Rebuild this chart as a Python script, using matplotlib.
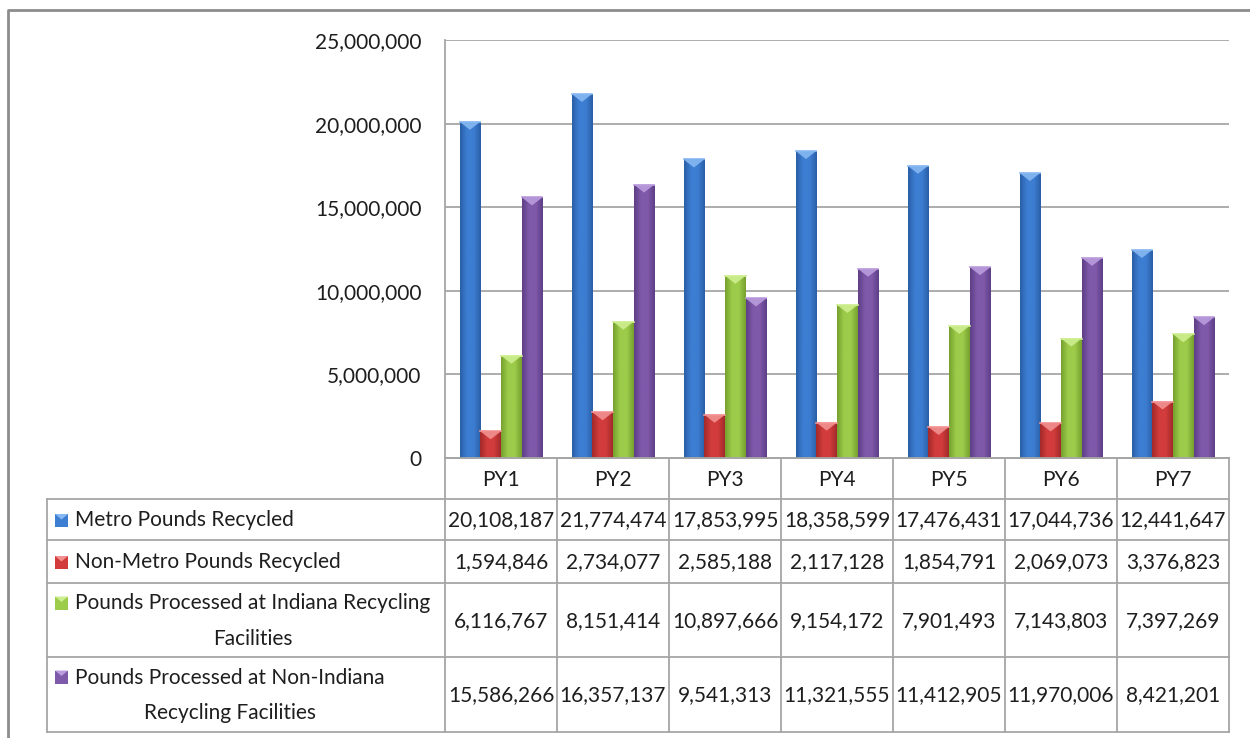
import numpy as np
import matplotlib
matplotlib.use("Agg")
import matplotlib.pyplot as plt
from matplotlib.patches import Polygon, Rectangle
from matplotlib.colors import LinearSegmentedColormap

categories = ["PY1", "PY2", "PY3", "PY4", "PY5", "PY6", "PY7"]
series_names = [
    "Metro Pounds Recycled",
    "Non-Metro Pounds Recycled",
    "Pounds Processed at Indiana Recycling\nFacilities",
    "Pounds Processed at Non-Indiana\nRecycling Facilities",
]
metro = [20108187, 21774474, 17853995, 18358599, 17476431, 17044736, 12441647]
non_metro = [1594846, 2734077, 2585188, 2117128, 1854791, 2069073, 3376823]
indiana = [6116767, 8151414, 10897666, 9154172, 7901493, 7143803, 7397269]
non_indiana = [15586266, 16357137, 9541313, 11321555, 11412905, 11970006, 8421201]
all_series = [metro, non_metro, indiana, non_indiana]
yticks = [0, 5000000, 10000000, 15000000, 20000000, 25000000]

# style
mid_colors = ["#3D7ED2", "#D23C3C", "#9DCB4A", "#7F59AA"]
edge_colors = ["#2A5EA6", "#A22A2A", "#76A02F", "#5C3E86"]
top_colors = ["#86B8F2", "#F29090", "#CDEE8E", "#BA9CDD"]
FONT = "Lato"
TXT = "#1e1e1e"
GRID = "#a6a6a6"
FS = 15

W, H = 1250, 738
fig = plt.figure(figsize=(W / 100, H / 100), dpi=100)

def fr(x0, y0, x1, y1):
    return [x0 / W, 1 - y1 / H, (x1 - x0) / W, (y1 - y0) / H]

# chart border (cropped)
bax = fig.add_axes([0, 0, 1, 1])
bax.set_xlim(0, W); bax.set_ylim(H, 0); bax.axis("off")
bax.plot([8, 8], [H + 5, 10], color="#8c8c8c", lw=2, solid_capstyle="butt")
bax.plot([7, W + 5], [10, 10], color="#8c8c8c", lw=2, solid_capstyle="butt")

# main plot
PL, PR, PT, PB = 445, 1229, 40, 458
ax = fig.add_axes(fr(PL, PT, PR, PB))
n = len(categories)
x = np.arange(n)
ax.set_xlim(-0.5, n - 0.5)
ax.set_ylim(0, 25000000)
ax.set_yticks(yticks)
ax.set_yticklabels([f"{v:,}" for v in yticks], fontfamily=FONT, fontsize=FS, color=TXT)
ax.tick_params(axis="y", length=0, pad=17)
ax.set_xticks([])
ax.grid(axis="y", color=GRID, lw=1.3)
ax.set_axisbelow(True)
for s in ["top", "right"]:
    ax.spines[s].set_visible(False)
for s in ["left", "bottom"]:
    ax.spines[s].set_color(GRID)
    ax.spines[s].set_linewidth(1.3)

bw = 0.185
px_per_unit_y = (PB - PT) / 25000000.0
bevel = 8 / px_per_unit_y
for i, vals in enumerate(all_series):
    off = (i - 1.5) * bw
    bars = ax.bar(x + off, vals, width=bw, color=mid_colors[i], zorder=3, lw=0)
    cmap = LinearSegmentedColormap.from_list(
        f"g{i}", [edge_colors[i], mid_colors[i], mid_colors[i], edge_colors[i]])
    grad = np.linspace(0, 1, 64).reshape(1, -1)
    for b in bars:
        bx, bwid, bh = b.get_x(), b.get_width(), b.get_height()
        im = ax.imshow(grad, cmap=cmap, aspect="auto",
                       extent=[bx, bx + bwid, 0, bh], zorder=3.1,
                       interpolation="bicubic")
        im.set_clip_path(b)
        tri = Polygon([[bx, bh], [bx + bwid, bh], [bx + bwid / 2, bh - bevel]],
                      closed=True, color=top_colors[i], zorder=3.2, lw=0, alpha=0.9)
        ax.add_patch(tri)
        ax.plot([bx, bx + bwid], [bh, bh], color=top_colors[i], lw=1.2, zorder=3.3)
ax.set_xlim(-0.5, n - 0.5)
ax.set_ylim(0, 25000000)

# data table
TL = 47
rows_y = [458, 499, 540, 583, 657, 732]
cat_px = (PR - PL) / n
tax = fig.add_axes(fr(TL, 458, PR, 732))
LX = -0.5 - (PL - TL) / cat_px
tax.set_xlim(LX, n - 0.5)
tax.set_ylim(732, 458)
tax.axis("off")
lc = GRID
lw = 1.3
for k in range(n + 1):
    tax.plot([k - 0.5, k - 0.5], [458, 732], color=lc, lw=lw, clip_on=False)
tax.plot([LX, LX], [499, 732], color=lc, lw=lw, clip_on=False)
tax.plot([-0.5, n - 0.5], [458, 458], color=lc, lw=lw, clip_on=False)
for yy in rows_y[1:]:
    tax.plot([LX, n - 0.5], [yy, yy], color=lc, lw=lw, clip_on=False)

for k, c in enumerate(categories):
    tax.text(k, (rows_y[0] + rows_y[1]) / 2 + 1, c, ha="center", va="center",
             fontfamily=FONT, fontsize=FS, color=TXT)
for r, vals in enumerate(all_series):
    yc = (rows_y[r + 1] + rows_y[r + 2]) / 2 + 1
    for k, v in enumerate(vals):
        tax.text(k, yc, f"{v:,}", ha="center", va="center",
                 fontfamily=FONT, fontsize=FS, color=TXT)
    ky = yc if r < 2 else (rows_y[r + 1] + 20)
    mx0 = LX + 8 / cat_px
    mw = 13 / cat_px
    tax.add_patch(Rectangle((mx0, ky - 6.5), mw, 13, color=mid_colors[r], lw=0, zorder=3))
    tax.add_patch(Polygon([[mx0, ky - 6.5], [mx0 + mw, ky - 6.5], [mx0 + mw / 2, ky - 1]],
                          closed=True, color=top_colors[r], lw=0, zorder=4))
    tax.text(LX + 28 / cat_px, yc, series_names[r], ha="left", va="center",
             multialignment="center", linespacing=1.95,
             fontfamily=FONT, fontsize=FS, color=TXT)

fig.savefig("out.png", dpi=100)
